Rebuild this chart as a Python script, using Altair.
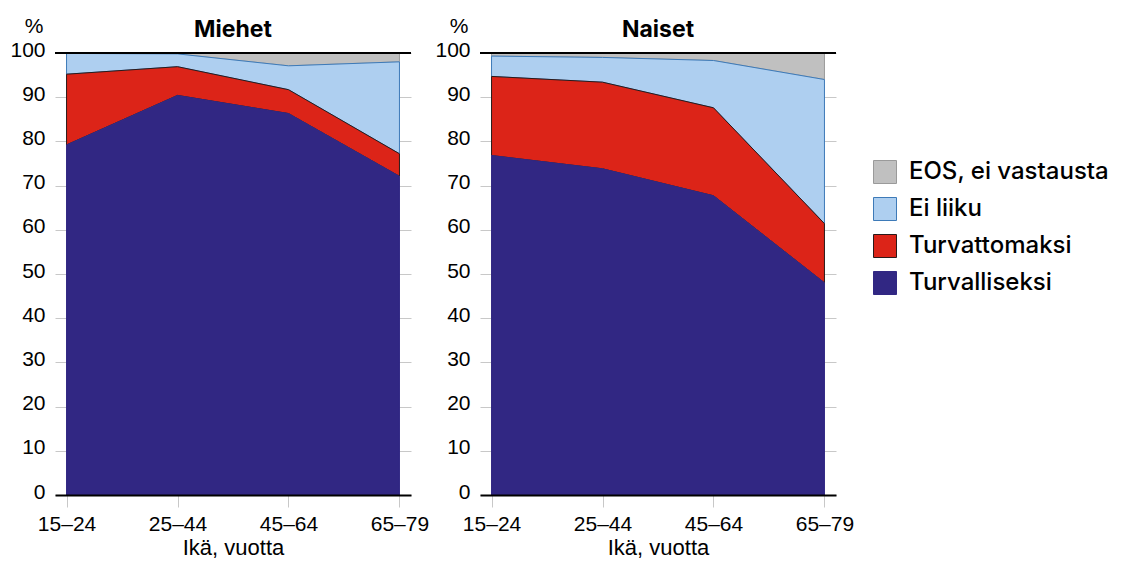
import altair as alt
import pandas as pd

ages = ["15–24", "25–44", "45–64", "65–79"]
panels = ["Miehet", "Naiset"]
# legend order, top to bottom
series_order = ["EOS, ei vastausta", "Ei liiku", "Turvattomaksi", "Turvalliseksi"]
fill_colors = ["#c0c0c0", "#aecff0", "#dc2418", "#312783"]
stroke_colors = ["#9a9a9a", "#3d7ab8", "#2a1a1a", "#312783"]

miehet_turvalliseksi = [79.2, 90.4, 86.3, 72.1]
miehet_turvattomaksi = [16.0, 6.5, 5.4, 5.1]
miehet_ei_liiku = [4.7, 2.9, 5.4, 20.8]
miehet_eos = [0.1, 0.2, 2.9, 2.0]

naiset_turvalliseksi = [76.8, 73.8, 67.7, 48.0]
naiset_turvattomaksi = [17.9, 19.6, 19.9, 13.4]
naiset_ei_liiku = [4.6, 5.6, 10.7, 32.6]
naiset_eos = [0.7, 1.0, 1.7, 6.0]

data_by_panel = {
    "Miehet": {
        "Turvalliseksi": miehet_turvalliseksi,
        "Turvattomaksi": miehet_turvattomaksi,
        "Ei liiku": miehet_ei_liiku,
        "EOS, ei vastausta": miehet_eos,
    },
    "Naiset": {
        "Turvalliseksi": naiset_turvalliseksi,
        "Turvattomaksi": naiset_turvattomaksi,
        "Ei liiku": naiset_ei_liiku,
        "EOS, ei vastausta": naiset_eos,
    },
}

stack_order = ["Turvalliseksi", "Turvattomaksi", "Ei liiku", "EOS, ei vastausta"]
rows = []
for p in panels:
    for s in stack_order:
        for a, v in zip(ages, data_by_panel[p][s]):
            rows.append({"panel": p, "series": s, "age": a, "value": v,
                         "ord": stack_order.index(s)})
df = pd.DataFrame(rows)
top_df = pd.DataFrame({"top": [100]})

AX_FONT = "Liberation Sans"
W, H = 356, 442

legend_kw = dict(title=None, orient="none", legendX=818, legendY=107,
                 symbolType="square", symbolSize=529, symbolStrokeWidth=1,
                 labelFont="Inter", labelFontSize=24, labelFontWeight=500,
                 labelColor="black", labelOffset=12, rowPadding=9,
                 labelLimit=400)


def panel(name):
    base = (
        alt.Chart(df)
        .transform_filter(alt.datum.panel == name)
        .transform_stack(stack="value", groupby=["panel", "age"], as_=["y0", "y1"],
                         sort=[alt.SortField("ord", "ascending")])
    )
    x = alt.X("age:N", sort=ages,
              scale=alt.Scale(type="point", padding=0.104),
              axis=alt.Axis(title="Ikä, vuotta", labelAngle=0, domain=True,
                            domainColor="black", domainWidth=2, ticks=True,
                            tickColor="#c8c8c8", tickSize=12, tickWidth=1,
                            labelFont=AX_FONT, labelFontSize=21, labelColor="black",
                            labelPadding=6, titleFont=AX_FONT, titleFontSize=22,
                            titleFontWeight="normal", titleColor="black",
                            titlePadding=3, grid=False, zindex=1))
    y = alt.Y("y1:Q", scale=alt.Scale(domain=[0, 100], nice=False),
              axis=alt.Axis(title="%", titleAngle=0, titleAlign="right",
                            titleBaseline="alphabetic", titleX=-12, titleY=-21,
                            titleFont=AX_FONT, titleFontSize=21,
                            titleFontWeight="normal", titleColor="black",
                            values=list(range(0, 101, 10)), domain=False,
                            ticks=False, grid=True, gridColor="#c8c8c8",
                            labelFont=AX_FONT, labelFontSize=21, labelColor="black",
                            labelPadding=10, labelOffset=-3))
    fill = alt.Fill("series:N", scale=alt.Scale(domain=series_order, range=fill_colors),
                    legend=alt.Legend(**legend_kw))
    stroke = alt.Stroke("series:N",
                        scale=alt.Scale(domain=series_order, range=stroke_colors),
                        legend=alt.Legend(**legend_kw))
    layers = []
    for s in series_order:  # draw top series first
        layers.append(
            base.transform_filter(alt.datum.series == s)
            .mark_area(strokeWidth=1, interpolate="linear", fillOpacity=1)
            .encode(x=x, y=y, y2="y0:Q", fill=fill, stroke=stroke)
        )
    rule = alt.Chart(top_df).mark_rule(color="black", strokeWidth=2).encode(
        y=alt.Y("top:Q", scale=alt.Scale(domain=[0, 100], nice=False)))
    layers.append(rule)
    return alt.layer(*layers).properties(
        width=W, height=H,
        title=alt.TitleParams(name, font="Inter", fontSize=23, fontWeight="bold",
                              color="black", anchor="middle", baseline="alphabetic",
                              offset=14, dy=59),
    )


chart = (
    alt.hconcat(panel("Miehet"), panel("Naiset"), spacing=69, bounds="flush")
    .properties(padding={"left": 1, "top": 7, "right": 5, "bottom": 0})
    .configure_view(stroke=None)
)

chart.save("out.html", embed_options={"renderer": "svg", "actions": False})
